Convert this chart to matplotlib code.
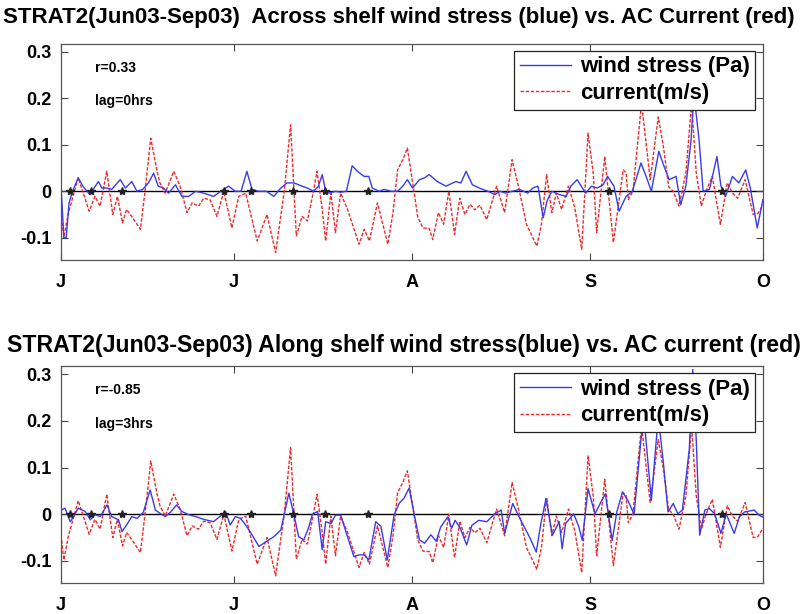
import matplotlib.pyplot as plt

plt.rcParams['font.family'] = ['Liberation Sans', 'DejaVu Sans']
plt.rcParams['font.weight'] = 'bold'

# time axis: days since 1 Jun 2003
month_ticks = [0, 30, 61, 92, 122]
month_labels = ['J', 'J', 'A', 'S', 'O']

# AC current (m/s), same record in both panels
cur_day = [0.0, 0.5, 1.3, 3.0, 4.9, 5.9, 6.8, 7.95, 9.0, 9.8, 10.7, 11.4, 12.5, 13.8,
           14.6, 15.6, 16.7, 17.2, 18.1, 19.6, 20.7, 21.9, 22.8, 23.9, 24.8, 25.9, 27.1,
           28.3, 29.7, 30.9, 32.1, 34.1, 35.8, 37.3, 38.8, 39.9, 40.9, 41.9, 42.8, 43.7,
           44.5, 45.4, 46.0, 46.9, 47.7, 48.6, 49.8, 51.8, 52.7, 53.6, 55.0, 56.8, 57.7,
           58.5, 59.4, 60.2, 61.2, 62.0, 62.9, 64.0, 64.6, 65.6, 66.5, 67.4, 68.4, 69.3,
           70.2, 71.1, 71.9, 72.8, 74.0, 75.7, 77.1, 78.4, 79.5, 80.9, 82.7, 83.5, 84.4,
           85.3, 86.1, 87.0, 88.2, 89.3, 90.5, 91.6, 92.5, 93.1, 94.5, 96.0, 97.7, 98.2,
           98.6, 99.4, 100.9, 102.4, 103.8, 104.7, 105.6, 106.4, 107.4, 108.6, 109.6,
           110.4, 111.3, 112.1, 113.2, 114.6, 115.8, 116.7, 117.6, 118.9, 120.3, 121.1,
           122.0]
cur_val = [-0.045, -0.098, -0.046, 0.029, -0.043, -0.011, -0.032, 0.043, -0.05, -0.011,
           -0.068, -0.039, -0.058, -0.082, 0.0, 0.114, 0.043, 0.018, -0.004, 0.043, 0.011,
           -0.046, -0.025, -0.032, -0.015, -0.018, -0.054, 0.0, -0.079, -0.011, -0.004,
           -0.107, -0.05, -0.132, 0.0, 0.143, -0.096, -0.054, -0.064, -0.011, 0.043, -0.039,
           -0.107, -0.004, -0.089, -0.004, -0.039, -0.114, -0.082, -0.107, -0.025, -0.114,
           -0.046, 0.046, 0.068, 0.093, 0.011, -0.055, -0.079, -0.08, -0.104, -0.046,
           -0.071, 0.0, -0.093, -0.015, -0.05, -0.028, -0.04, -0.03, -0.061, 0.011, -0.046,
           0.068, 0.011, -0.071, -0.118, -0.071, 0.036, -0.046, -0.004, -0.039, 0.011,
           -0.036, -0.125, 0.125, 0.039, -0.089, 0.075, -0.11, 0.046, 0.04, -0.018, 0.0,
           0.19, 0.025, 0.16, 0.096, 0.01, 0.0, -0.032, 0.039, 0.19, 0.04, -0.032, 0.0,
           0.032, -0.071, 0.018, -0.004, -0.015, 0.025, -0.05, -0.048, -0.03]

# across-shelf wind stress (Pa)
across_day = [0.0, 0.5, 0.9, 1.4, 2.0, 3.0, 3.8, 5.0, 5.6, 6.5, 7.1, 8.0, 8.8, 10.3, 11.2,
              12.3, 13.2, 14.2, 15.2, 16.1, 16.9, 17.8, 18.7, 19.9, 21.0, 22.2, 23.4, 24.8,
              26.5, 27.8, 29.1, 30.3, 31.3, 32.3, 33.2, 34.3, 35.7, 37.0, 38.2, 39.3, 40.5,
              41.9, 42.8, 43.9, 44.7, 45.4, 46.0, 46.6, 47.7, 48.6, 49.6, 50.6, 51.5, 52.7,
              53.5, 54.1, 55.3, 56.2, 57.4, 58.5, 59.4, 60.2, 61.1, 62.3, 63.2, 64.0, 65.4,
              66.9, 68.1, 68.6, 69.5, 70.4, 71.5, 72.7, 74.2, 75.4, 76.3, 77.3, 78.4, 79.7,
              81.1, 82.0, 82.9, 83.8, 84.5, 85.3, 86.6, 87.8, 88.6, 89.7, 91.2, 92.2, 93.2,
              94.2, 95.0, 96.1, 97.0, 98.2, 99.3, 100.8, 101.9, 102.6, 103.9, 104.8, 105.7,
              106.9, 107.7, 108.6, 109.5, 110.0, 110.9, 111.6, 112.7, 114.0, 114.7, 115.5,
              116.7, 117.8, 119.0, 119.8, 121.0, 122.0]
across_val = [0.011, -0.1, -0.1, -0.025, 0.0, 0.029, 0.011, -0.007, 0.004, 0.021, 0.007,
              0.007, 0.004, 0.025, 0.007, 0.021, 0.0, 0.004, 0.018, 0.039, 0.011, 0.007,
              -0.004, 0.014, -0.011, -0.011, 0.0, -0.004, -0.011, 0.0, 0.011, 0.0, 0.0,
              0.043, 0.004, 0.0, 0.0, -0.011, 0.007, 0.018, 0.018, 0.011, 0.007, 0.0, 0.01,
              0.036, 0.0, -0.004, 0.0, -0.002, 0.0, 0.055, 0.043, 0.032, 0.032, 0.007, 0.0,
              0.004, 0.0, 0.0, 0.011, 0.025, 0.007, 0.025, 0.029, 0.036, 0.021, 0.011, 0.018,
              0.021, 0.018, 0.043, 0.014, 0.007, 0.0, -0.007, 0.0, -0.004, 0.0, 0.004,
              -0.004, 0.007, 0.011, -0.057, -0.02, 0.0, -0.007, -0.011, 0.011, 0.025,
              -0.004, 0.011, 0.007, 0.014, 0.032, 0.011, -0.043, -0.011, 0.0, 0.061, 0.025,
              0.0, 0.086, 0.054, 0.025, 0.032, -0.029, 0.011, 0.11, 0.21, 0.11, 0.0, 0.004,
              0.075, 0.011, -0.011, 0.032, 0.018, 0.046, 0.007, -0.079, -0.018]

# along-shelf wind stress (Pa)
along_day = [0.0, 0.7, 1.6, 2.2, 3.0, 4.2, 5.1, 5.9, 6.8, 8.0, 8.8, 10.0, 10.6, 11.4, 12.3,
             13.2, 14.3, 15.5, 16.4, 17.2, 18.1, 19.0, 20.1, 21.0, 22.2, 23.4, 24.8, 26.5,
             28.0, 28.6, 29.4, 30.3, 31.2, 32.1, 33.0, 34.4, 35.5, 37.0, 38.2, 39.6, 40.5,
             41.3, 42.2, 43.0, 43.7, 44.6, 45.4, 46.0, 46.9, 47.7, 48.6, 49.8, 50.9, 51.8,
             52.7, 53.5, 54.7, 55.6, 56.7, 57.9, 58.8, 59.6, 60.5, 61.4, 62.3, 63.2, 64.3,
             65.2, 66.0, 67.2, 67.9, 68.5, 69.4, 70.5, 71.4, 72.6, 74.0, 75.4, 76.5, 77.1,
             78.5, 79.9, 81.4, 82.6, 83.4, 84.3, 85.4, 86.6, 87.1, 87.7, 89.1, 90.0, 90.6,
             91.6, 92.8, 94.0, 94.6, 95.8, 96.6, 97.6, 98.5, 99.6, 100.8, 101.3, 102.6,
             103.8, 104.7, 105.5, 106.4, 107.2, 108.0, 109.2, 109.8, 110.4, 111.0, 111.9,
             112.7, 113.6, 114.7, 115.6, 117.0, 117.9, 118.8, 120.5, 121.3, 122.0]
along_val = [0.009, 0.013, -0.016, -0.005, 0.013, 0.006, -0.012, -0.001, -0.005, 0.02,
             -0.005, -0.012, -0.037, -0.023, -0.005, -0.009, 0.004, 0.052, 0.009, 0.002,
             -0.005, 0.004, 0.02, 0.006, -0.001, -0.005, -0.011, -0.016, -0.001, 0.006,
             -0.023, -0.005, -0.009, -0.023, -0.04, -0.069, -0.06, -0.048, -0.034, 0.045,
             -0.002, -0.048, -0.055, -0.03, 0.0, 0.006, -0.076, -0.016, -0.02, -0.002,
             -0.002, -0.048, -0.091, -0.087, -0.087, -0.098, -0.016, -0.026, -0.098,
             -0.001, 0.024, 0.034, 0.056, -0.001, -0.055, -0.062, -0.044, -0.058, -0.027,
             -0.006, -0.03, -0.013, -0.03, -0.066, -0.024, -0.013, -0.016, 0.001, 0.009,
             -0.041, 0.023, -0.013, -0.048, -0.081, -0.02, 0.034, -0.045, -0.016, -0.074,
             -0.02, 0.001, -0.027, -0.056, 0.055, 0.001, 0.03, 0.044, -0.056, 0.005, 0.048,
             0.03, 0.0, 0.16, 0.21, 0.03, 0.21, 0.109, 0.005, 0.023, 0.001, 0.009, 0.14,
             0.31, 0.16, -0.045, 0.009, 0.012, 0.001, -0.041, 0.001, -0.041, -0.006, 0.005,
             0.009, -0.002, -0.006]

# marked days on the zero line
star_day = [1.6, 5.2, 10.6, 28.4, 33.1, 40.4, 45.8, 53.3, 95.3, 114.8]

titles = ['STRAT2(Jun03-Sep03)  Across shelf wind stress (blue) vs. AC Current (red)',
          'STRAT2(Jun03-Sep03) Along shelf wind stress(blue) vs. AC current (red)']
title_size = [16, 16.7]
title_pos = [(0.493, 0.9707), (0.4994, 0.4381)]
stats = [('r=0.33', 'lag=0hrs'), ('r=-0.85', 'lag=3hrs')]
wind = [(across_day, across_val), (along_day, along_val)]

fig = plt.figure(figsize=(8.09, 6.14), dpi=100)
boxes = [[0.0754, 0.5765, 0.8677, 0.3518], [0.0754, 0.0500, 0.8677, 0.3534]]

for k in range(2):
    ax = fig.add_axes(boxes[k])
    ax.axhline(0, color='k', lw=1.0, zorder=1)
    ax.plot(wind[k][0], wind[k][1], color='#3a3aee', lw=1.0, label='wind stress (Pa)', zorder=3)
    ax.plot(cur_day, cur_val, color='#ee2a2a', lw=1.0, ls=(0, (2.5, 1.2)),
            label='current(m/s)', zorder=2)
    ax.plot(star_day, [0] * len(star_day), ls='none', marker='*', color='#222222',
            ms=6, zorder=4)
    ax.set_xlim(0, 122)
    ax.set_ylim(-0.148, 0.317)
    ax.set_xticks(month_ticks)
    ax.set_xticklabels(month_labels)
    ax.set_yticks([-0.1, 0, 0.1, 0.2, 0.3])
    ax.set_yticklabels(['-0.1', '0', '0.1', '0.2', '0.3'])
    ax.tick_params(direction='in', top=True, right=True, length=5, width=0.8,
                   color='#444444', labelsize=13, pad=7)
    ax.tick_params(axis='x', pad=10)
    for s in ax.spines.values():
        s.set_color('#555555')
        s.set_linewidth(0.9)
    ax.text(0.048, 0.89, stats[k][0], transform=ax.transAxes, fontsize=10, va='center')
    ax.text(0.048, 0.735, stats[k][1], transform=ax.transAxes, fontsize=10, va='center')
    leg = ax.legend(loc='upper right', bbox_to_anchor=(0.989, 0.968), borderaxespad=0,
                    fontsize=16, fancybox=False, framealpha=1, edgecolor='#222222',
                    handlelength=2.3, labelspacing=0.25, borderpad=0.25, handletextpad=0.4)
    leg.get_frame().set_linewidth(0.9)
    fig.text(title_pos[k][0], title_pos[k][1], titles[k], ha='center', va='center',
             fontsize=title_size[k])

fig.savefig('out.png', dpi=100)
